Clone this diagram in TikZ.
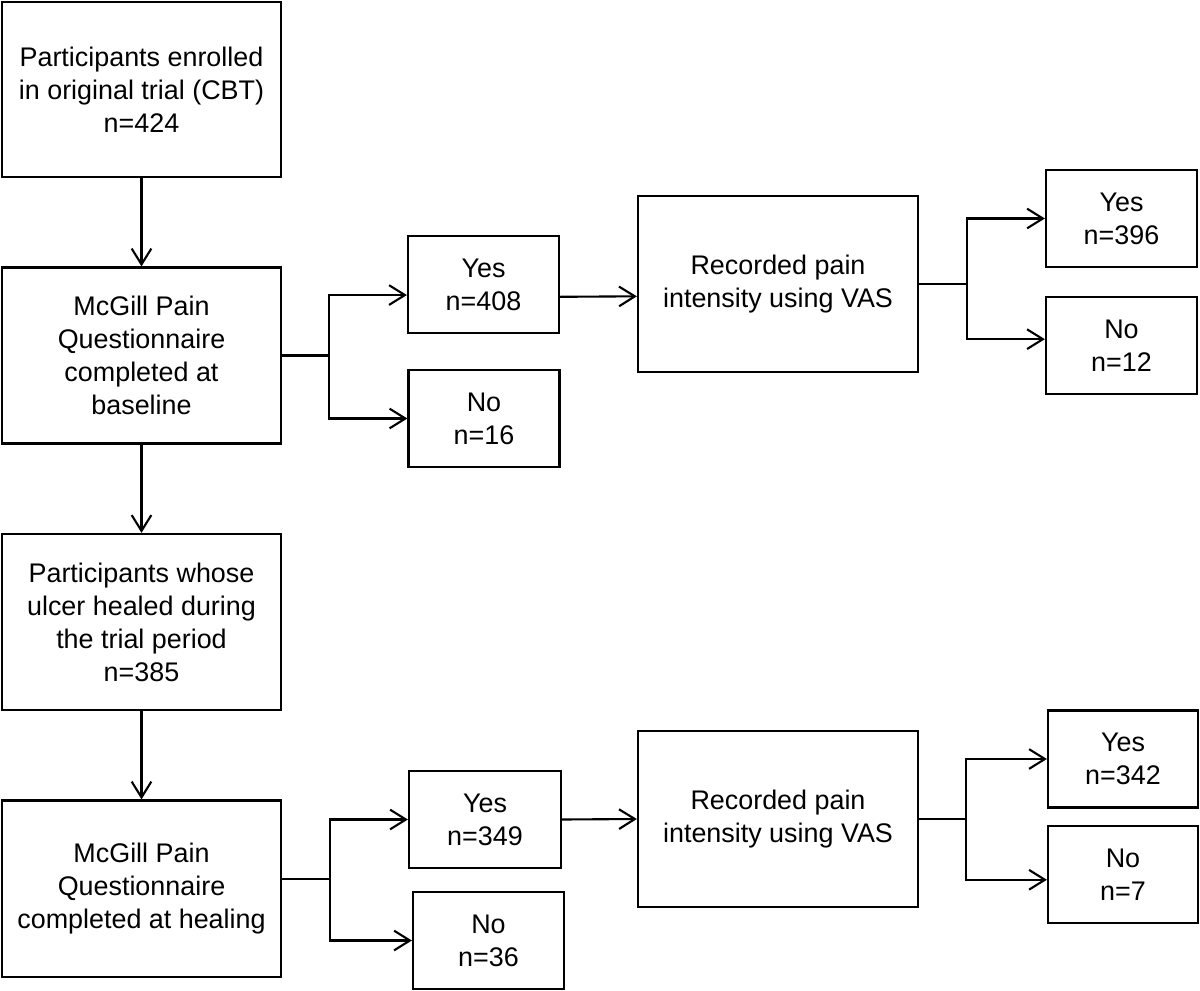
\documentclass[tikz,border=0pt]{standalone}
\usepackage{fontspec}
\setmainfont{Liberation Sans}
\usetikzlibrary{arrows.meta}
\tikzset{>={Straight Barb[length=4.5pt,width=5.6pt]}}
\tikzset{
  box/.style={draw, line width=0.6pt, align=center, inner sep=0pt,
    font=\fontsize{7.65}{9.4}\selectfont},
  bigbox/.style={box, minimum width=2.79cm, minimum height=1.76cm},
  smallbox/.style={box, minimum width=1.51cm, minimum height=0.97cm}
}

\begin{document}
\begin{tikzpicture}[x=0.01cm, y=-0.01cm, line width=0.6pt]
\useasboundingbox (0,0) rectangle (1200,991);
% left column
\node[bigbox, minimum height=1.75cm] (enrolled) at (141.5,89.5) {Participants enrolled\\in original trial (CBT)\\n=424};
\node[bigbox] (mpqbase) at (141.5,355.5) {McGill Pain\\Questionnaire\\completed at\\baseline};
\node[bigbox] (healed) at (141.5,622) {Participants whose\\ulcer healed during\\the trial period\\n=385};
\node[bigbox] (mpqheal) at (141.5,888.5) {McGill Pain\\Questionnaire\\completed at healing};
% baseline branch
\node[smallbox] (yesbase) at (483.5,284.5) {Yes\\n=408};
\node[smallbox] (nobase) at (484,418.5) {No\\n=16};
\node[bigbox, minimum width=2.8cm] (vasbase) at (778,284) {Recorded pain\\intensity using VAS};
\node[smallbox] (vasyes) at (1121.5,218.5) {Yes\\n=396};
\node[smallbox] (vasno) at (1121.5,345.5) {No\\n=12};
% healing branch
\node[smallbox, minimum width=1.52cm] (yesheal) at (485,819.5) {Yes\\n=349};
\node[smallbox] (noheal) at (488.5,940.5) {No\\n=36};
\node[bigbox, minimum width=2.8cm] (vasheal) at (778,819) {Recorded pain\\intensity using VAS};
\node[smallbox, minimum width=1.5cm] (vashealyes) at (1123,759) {Yes\\n=342};
\node[smallbox, minimum width=1.5cm] (vashealno) at (1123,874.5) {No\\n=7};

\draw[->] (enrolled) -- (mpqbase);
\draw[->] (mpqbase) -- (healed);
\draw[->] (healed) -- (mpqheal);

\draw (mpqbase.east) -- ++(47,0) coordinate (fork1);
\draw[->] (fork1) |- ([yshift=-3pt]yesbase.west);
\draw[->] (fork1) |- (nobase.west);
\draw[->] ([yshift=-3.5pt]yesbase.east) -- ([yshift=-3.5pt]vasbase.west);
\draw (vasbase.east) -- ++(48,0) coordinate (fork2);
\draw[->] (fork2) |- (vasyes.west);
\draw[->] (fork2) |- ([yshift=1.8pt]vasno.west);

\draw ([yshift=2.7pt]mpqheal.east) -- ++(48,0) coordinate (fork3);
\draw[->] (fork3) |- (yesheal.west);
\draw[->] (fork3) |- (noheal.west);
\draw[->] (yesheal.east) -- (vasheal.west);
\draw (vasheal.east) -- ++(47,0) coordinate (fork4);
\draw[->] (fork4) |- (vashealyes.west);
\draw[->] (fork4) |- ([yshift=-1.5pt]vashealno.west);
\end{tikzpicture}
\end{document}
